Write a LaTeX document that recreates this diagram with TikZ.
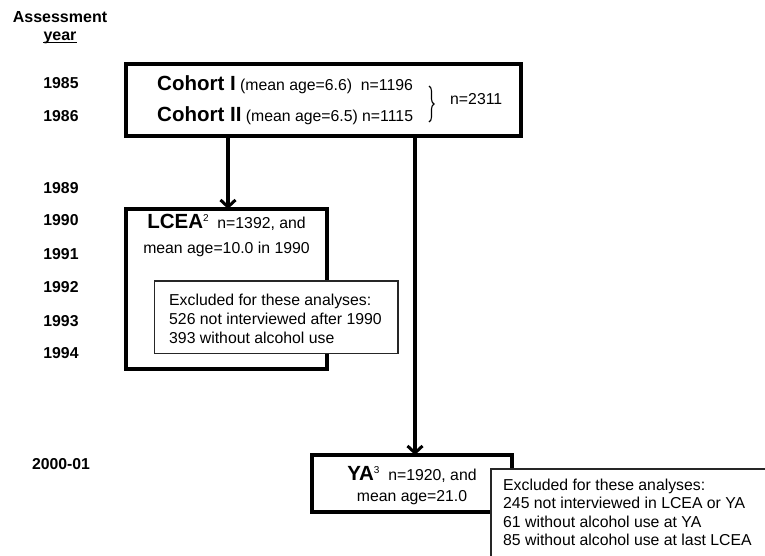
\documentclass[tikz,border=0pt]{standalone}
\usepackage{fontspec}
\setmainfont{Liberation Sans}
\usetikzlibrary{arrows.meta,decorations.pathreplacing}
\newcommand{\supr}[1]{\raisebox{7pt}{\fontsize{10}{10}\selectfont #1}}
\begin{document}
\begin{tikzpicture}[x=1pt,y=-1pt,
  thickbox/.style={draw=black, line width=3.5pt, fill=white, outer sep=0pt, inner sep=0pt, rectangle},
  thinbox/.style={draw=black!85, line width=1.3pt, fill=white, outer sep=0pt, inner sep=0pt, rectangle},
  yearlbl/.style={font=\fontsize{15.8}{18}\selectfont\bfseries, anchor=base, inner sep=0pt},
  txt/.style={font=\fontsize{15.8}{18}\selectfont, anchor=base west, inner sep=0pt},
  ctxt/.style={font=\fontsize{15.8}{18}\selectfont, anchor=base, inner sep=0pt},
  flow/.style={line width=3.5pt, -{Straight Barb[length=7pt,width=15pt,line width=3pt]}}
]
\useasboundingbox (0,0) rectangle (765,555);
\fill[white] (0,0) rectangle (765,555);

% header
\node[yearlbl, font=\fontsize{16}{18}\selectfont\bfseries] (hdr) at (60,22) {Assessment};
\node[yearlbl, font=\fontsize{16}{18}\selectfont\bfseries] (yr) at (60,40) {year};
\draw[line width=1.2pt] ([yshift=-2.8pt]yr.base west) -- ([yshift=-2.8pt]yr.base east);

% years
\node[yearlbl] (y85) at (61,88.5) {1985};
\node[yearlbl] (y86) at (61,121.5) {1986};
\node[yearlbl] (y89) at (61,193) {1989};
\node[yearlbl] (y90) at (61,225.5) {1990};
\node[yearlbl] (y91) at (61,259) {1991};
\node[yearlbl] (y92) at (61,292) {1992};
\node[yearlbl] (y93) at (61,326) {1993};
\node[yearlbl] (y94) at (61,358.5) {1994};
\node[yearlbl] (y00) at (61,469) {2000-01};

% top box
\node[thickbox, anchor=north west, minimum width=395pt, minimum height=72pt] (top) at (126,64) {};
\node[txt] (c1) at (157,90) {{\fontsize{20.5}{22}\selectfont\bfseries Cohort I} (mean age=6.6)\ \ n=1196};
\node[txt] (c2) at (157,121.5) {{\fontsize{20.5}{22}\selectfont\bfseries Cohort II} (mean age=6.5) n=1115};
\draw[decorate, decoration={brace, amplitude=5pt}, line width=1.1pt] (429,86) -- (429,122);
\node[txt] (tot) at (450,104.5) {n=2311};

% LCEA box
\node[thickbox, anchor=north west, minimum width=201pt, minimum height=160pt] (lcea) at (126,209) {};
\node[ctxt] (l1) at (226.5,228) {{\fontsize{20.5}{22}\selectfont\bfseries LCEA}\supr{2}\ \ n=1392, and};
\node[ctxt] (l2) at (226.5,253) {mean age=10.0 in 1990};

% excluded 1
\node[thinbox, anchor=north west, minimum width=243.5pt, minimum height=72.5pt] (ex1) at (154.5,281) {};
\node[txt] (e11) at (169,305) {Excluded for these analyses:};
\node[txt] (e12) at (169,324) {526 not interviewed after 1990};
\node[txt] (e13) at (169,343) {393 without alcohol use};

% YA box
\node[thickbox, anchor=north west, minimum width=200pt, minimum height=57pt] (ya) at (312,455) {};
\node[ctxt] (a1) at (412,480) {{\fontsize{20.5}{22}\selectfont\bfseries YA}\supr{3}\ \ n=1920, and};
\node[ctxt] (a2) at (412,501) {mean age=21.0};

% excluded 2 (runs off the page)
\begin{scope}
\clip (0,0) rectangle (765,555);
\node[thinbox, anchor=north west, minimum width=320pt, minimum height=130pt] (ex2) at (491,469) {};
\end{scope}
\node[txt] (e21) at (503,490) {Excluded for these analyses:};
\node[txt] (e22) at (503,508.5) {245 not interviewed in LCEA or YA};
\node[txt] (e23) at (503,527) {61 without alcohol use at YA};
\node[txt] (e24) at (503,545.5) {85 without alcohol use at last LCEA};

% connectors
\coordinate (s1) at (228,136);
\coordinate (s2) at (415,136);
\draw[flow] (top.south -| s1) -- (lcea.north -| s1);
\draw[flow] (top.south -| s2) -- (ya.north -| s2);
\end{tikzpicture}
\end{document}
